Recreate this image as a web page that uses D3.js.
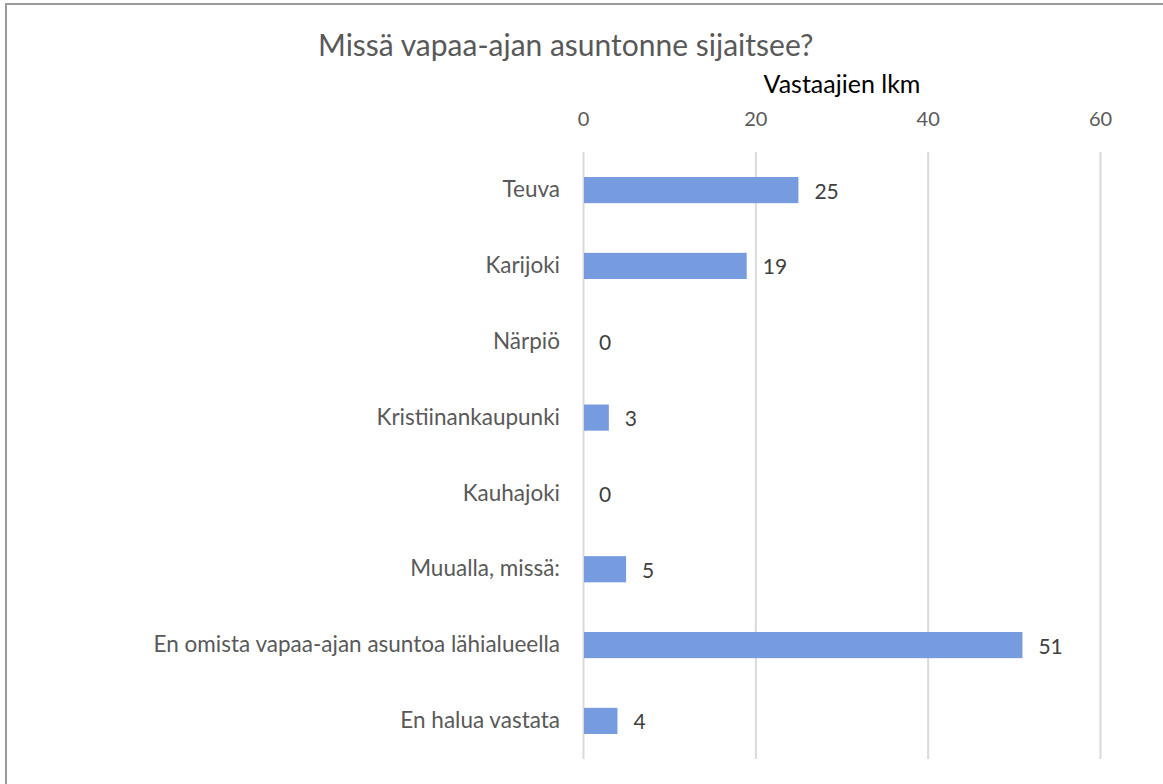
<!DOCTYPE html>
<html>
<head>
<meta charset="utf-8">
<script src="https://cdn.jsdelivr.net/npm/d3@7"></script>
<style>
  body { margin: 0; background: #fff; }
  svg { display: block; font-family: Lato, "Noto Sans", sans-serif; }
</style>
</head>
<body>
<div id="chart"></div>
<script>
// Chart data
var categories = ["Teuva", "Karijoki", "Närpiö", "Kristiinankaupunki", "Kauhajoki",
    "Muualla, missä:", "En omista vapaa-ajan asuntoa lähialueella", "En halua vastata"];
var counts = [25, 19, 0, 3, 0, 5, 51, 4];
var tickValues = [0, 20, 40, 60];

var svgWidth = 1163;
var svgHeight = 784;

var margin = { top: 152, right: 63, bottom: 25, left: 583 };
var chart_width = svgWidth - margin.left - margin.right;
var chart_height = svgHeight - margin.top - margin.bottom;

var svg = d3.select("#chart")
    .append("svg")
    .attr("width", svgWidth)
    .attr("height", svgHeight);

// frame lines (top and left only are visible)
svg.append("line")
    .attr("x1", 5).attr("x2", svgWidth).attr("y1", 4).attr("y2", 4)
    .attr("stroke", "#9a9a9a").attr("stroke-width", 2);
svg.append("line")
    .attr("x1", 6).attr("x2", 6).attr("y1", 3).attr("y2", svgHeight)
    .attr("stroke", "#9a9a9a").attr("stroke-width", 2);

var chart_group = svg.append("g")
    .attr("transform", `translate(${margin.left}, ${margin.top})`);

var x = d3.scaleLinear().domain([0, 60]).range([0, 517]);
var y = d3.scaleBand().domain(categories).range([0, chart_height]).paddingInner(0.655).paddingOuter(0.33);

// gridlines
chart_group.selectAll(".grid")
    .data(tickValues)
    .enter()
    .append("line")
    .attr("x1", d => x(d) + 0.5).attr("x2", d => x(d) + 0.5)
    .attr("y1", 0).attr("y2", chart_height)
    .attr("stroke", "#d9d9d9").attr("stroke-width", 2);

// top axis labels
var xAxis = d3.axisTop(x).tickValues(tickValues).tickSize(0).tickPadding(0);
var xg = chart_group.append("g")
    .attr("transform", "translate(0, -26)")
    .call(xAxis);
xg.select(".domain").remove();
xg.selectAll("text")
    .attr("font-family", "Lato, 'Noto Sans', sans-serif")
    .attr("font-size", "20px")
    .attr("fill", "#595959");

// category labels
var yAxis = d3.axisLeft(y).tickSize(0).tickPadding(23);
var yg = chart_group.append("g").call(yAxis);
yg.select(".domain").remove();
yg.selectAll("text")
    .attr("font-family", "Lato, 'Noto Sans', sans-serif")
    .attr("font-size", "22.5px")
    .attr("fill", "#595959");

// bars
chart_group.selectAll(".bar")
    .data(counts)
    .enter()
    .append("rect")
    .attr("x", x(0) + 1)
    .attr("y", (d, i) => y(categories[i]))
    .attr("width", d => Math.max(0, x(d) - x(0) - 1))
    .attr("height", y.bandwidth())
    .attr("fill", "#779bdf");

// value labels
chart_group.selectAll(".val")
    .data(counts)
    .enter()
    .append("text")
    .attr("x", d => x(d) + 16)
    .attr("y", (d, i) => y(categories[i]) + y.bandwidth() / 2)
    .attr("dominant-baseline", "central")
    .attr("font-size", "21px")
    .attr("fill", "#404040")
    .text(d => d);

// title
svg.append("text")
    .attr("x", 318)
    .attr("y", 56)
    .attr("font-size", "30px")
    .attr("fill", "#595959")
    .text("Missä vapaa-ajan asuntonne sijaitsee?");

// axis title
svg.append("text")
    .attr("x", 842)
    .attr("y", 93)
    .attr("text-anchor", "middle")
    .attr("font-size", "25px")
    .attr("fill", "#000")
    .text("Vastaajien lkm");
</script>
</body>
</html>
